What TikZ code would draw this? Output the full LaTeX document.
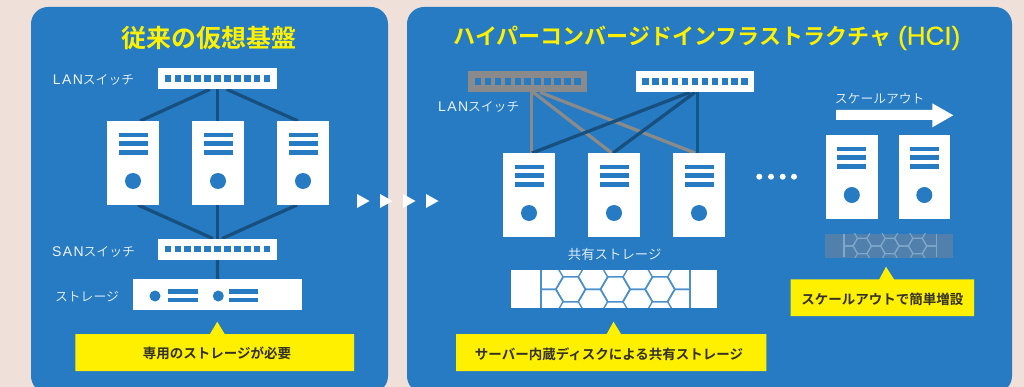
\documentclass[tikz,border=0pt]{standalone}
\usepackage{fontspec}
\setmainfont{Noto Sans CJK JP}[BoldFont={Noto Sans CJK JP Bold}]
\newfontfamily\lightf{Noto Sans CJK JP DemiLight}
\newfontfamily\titf{Noto Sans CJK JP Bold}
\newfontfamily\latn{Liberation Sans}[LetterSpace=10]
\newfontfamily\latt{Liberation Sans}[FakeBold=0.6]
\usetikzlibrary{calc,backgrounds}
\definecolor{bgc}{HTML}{F0E0DA}
\definecolor{panelc}{HTML}{277BC2}
\definecolor{yel}{HTML}{FFF000}
\definecolor{dk}{HTML}{17507F}
\definecolor{dkt}{HTML}{0F5A86}
\definecolor{gr}{HTML}{8A8A8A}
\definecolor{txt}{HTML}{333024}
\definecolor{lbl}{HTML}{EEF4FA}
\definecolor{hexc}{HTML}{4A90CC}
\definecolor{fadebg}{HTML}{5080AB}
\definecolor{fadehex}{HTML}{7FA7C9}
\tikzset{
 x=1pt,y=-1pt,
 panel/.style={fill=panelc,draw=none,rounded corners=17pt},
 switchbox/.style={rectangle,inner sep=0,outer sep=0,minimum width=118.8pt,minimum height=21.3pt,fill=white},
 serverbox/.style={rectangle,inner sep=0,outer sep=0,minimum width=51.4pt,minimum height=84pt,fill=white},
 storebox/.style={rectangle,inner sep=0,outer sep=0,fill=white},
 lan/.style={line width=3.3pt,draw=dk},
 lang/.style={line width=3.3pt,draw=gr},
 lanb/.style={line width=3.3pt,draw=dkt},
 lab/.style={text=lbl,font=\lightf\fontsize{12.8}{15}\selectfont,inner sep=0},
 title/.style={text=yel,font=\titf\fontsize{25}{28}\selectfont,inner sep=0},
 calloutbox/.style={fill=yel,draw=none},
 calltext/.style={text=txt,font=\fontsize{13.5}{15}\selectfont\bfseries,inner sep=0},
}
\newcommand{\netname}[1]{{\latn\fontsize{14}{15}\selectfont #1}}
% #1 name, #2 cx, #3 cy, #4 fill
\newcommand{\swt}[4]{%
 \node[switchbox,fill=#4] (#1) at (#2,#3) {};
 \foreach \i in {0,...,10}{\fill[panelc] ({#2-52.9+9.93*\i},{#3-3.25}) rectangle ++(6.5,6.5);}
}
% #1 name, #2 cx, #3 top
\newcommand{\srv}[3]{%
 \node[serverbox] (#1) at (#2,{#3+42}) {};
 \foreach \j in {11.7,20.3,29}{\fill[panelc] ({#2-14.5},{#3+\j}) rectangle ++(29,4.7);}
 \fill[panelc] (#2,{#3+60}) circle (8);
}
% honeycomb: #1 left, #2 top, #3 scale, #4 hex colour, #5 line width
\newcommand{\honey}[5]{%
 \begin{scope}[shift={(#1,#2)},scale=#3]
  \begin{scope}
   \clip (30.3,0) rectangle (179.6,37.7);
   \foreach \cx/\cy in {60/19.3,104.6/19.3,149.3/19.3,
     37.7/6.8,37.7/31.8,82.3/6.8,82.3/31.8,127/6.8,127/31.8,171.6/6.8,171.6/31.8}{
    \draw[#4,line width=#5] (\cx-14.6,\cy) -- (\cx-7.3,\cy-12.5) -- (\cx+7.3,\cy-12.5) -- (\cx+14.6,\cy) -- (\cx+7.3,\cy+12.5) -- (\cx-7.3,\cy+12.5) -- cycle;
   }
  \end{scope}
  \draw[#4,line width=#5*1.5] (30.3,0) -- (30.3,37.7);
  \draw[#4,line width=#5*1.5] (179.6,0) -- (179.6,37.7);
 \end{scope}
}
\begin{document}
\begin{tikzpicture}
\useasboundingbox (0,0) rectangle (1024,387);
% nodes left
\swt{lsw}{217.5}{78.6}{white}
\srv{a1}{133}{121}
\srv{a2}{218}{121}
\srv{a3}{303}{121}
\swt{ssw}{217.5}{249.2}{white}
\node[storebox,minimum width=168.7pt,minimum height=31pt] (st) at (217.4,294.8) {};
\foreach \c/\b in {155/168,218.3/228.7}{
 \fill[panelc] (\c,296) circle (5.5);
 \fill[panelc] (\b,289) rectangle ++(29.7,4.7);
 \fill[panelc] (\b,297.7) rectangle ++(29.7,4.7);
}
\node[lab] (l1) at (93.5,80) {\netname{LAN}スイッチ};
\node[lab] (l2) at (93.5,252) {\netname{SAN}スイッチ};
\node[lab] (l3) at (87,297) {ストレージ};
\node[title] (t1) at (208.7,38) {従来の仮想基盤};
% nodes right
\swt{gsw}{527.7}{81.6}{gr}
\swt{wsw}{695}{81.6}{white}
\srv{b1}{529}{153}
\srv{b2}{614}{153}
\srv{b3}{699}{153}
\srv{c1}{851.8}{135}
\srv{c2}{924.3}{135}
\node[lab] (l4) at (478.7,107) {\netname{LAN}スイッチ};
\node[lab,font=\lightf\fontsize{13.4}{15}\selectfont] (l5) at (614.7,254) {共有ストレージ};
\node[lab] (l6) at (879.7,99) {スケールアウト};
\node[title,font=\titf\fontsize{22}{26}\selectfont] (t2) at (707,38) {ハイパーコンバージドインフラストラクチャ\hspace{7pt}{\latt\fontsize{26}{28}\selectfont (HCI)}};
% storage
\node[storebox,minimum width=206.3pt,minimum height=37.7pt] (sh) at (613.85,288.85) {};
\honey{510.7}{270}{1}{hexc}{1.4}
\node[storebox,fill=fadebg,minimum width=128pt,minimum height=23.7pt] (sf) at (889,245.85) {};
\honey{825}{234}{0.62}{fadehex}{1.1}
% callouts
\fill[calloutbox] (75.3,334) -- (210,334) -- (217.3,321.7) -- (224.7,334) -- (354,334) -- (354,371) -- (75.3,371) -- cycle;
\node[calltext] (c1t) at (217,353.7) {専用のストレージが必要};
\fill[calloutbox] (456,334) -- (606.7,334) -- (613.5,321.7) -- (621,334) -- (766.3,334) -- (766.3,371) -- (456,371) -- cycle;
\node[calltext] (c2t) at (609,354) {サーバー内蔵ディスクによる共有ストレージ};
\fill[calloutbox] (790.7,279.3) -- (879.3,279.3) -- (886,266.7) -- (894,279.3) -- (974,279.3) -- (974,316) -- (790.7,316) -- cycle;
\node[calltext] (c3t) at (882.3,299) {スケールアウトで簡単増設};
% marks
\foreach \tx in {357,380,403,426}{\fill[white] (\tx,194) -- (\tx+12.5,201) -- (\tx,208) -- cycle;}
\foreach \dx in {759.3,771,782.7,794}{\fill[white] (\dx,176.7) circle (3);}
\fill[white] (836,110) -- (932.3,110) -- (932.3,103.3) -- (953.3,115.3) -- (932.3,127.3) -- (932.3,120) -- (836,120) -- cycle;
% background layer: page, panels, connectors
\begin{scope}[on background layer]
 \fill[bgc] (0,0) rectangle (1024,387);
 \begin{scope}
  \clip (0,0) rectangle (1024,387);
  \fill[panel] (31,7) rectangle (388,393);
  \fill[panel] (407,7) rectangle (1012,393);
 \end{scope}
 \draw[lan] ($(lsw.south)+(-7.5,0)$) -- ($(a1.north)+(7,0)$);
 \draw[lan] ($(lsw.south)+(0.2,0)$) -- ($(a2.north)+(-0.3,0)$);
 \draw[lan] ($(lsw.south)+(9,0)$) -- ($(a3.north)+(-5,0)$);
 \draw[lan] ($(a1.south)+(5,0)$) -- ($(ssw.north)+(-4.5,0)$);
 \draw[lan] ($(a2.south)+(-0.3,0)$) -- ($(ssw.north)+(0.2,0)$);
 \draw[lan] ($(a3.south)+(-6,0)$) -- ($(ssw.north)+(4.5,0)$);
 \draw[lan] (ssw.south) -- (st.north);
 \draw[lang] ($(gsw.south)+(4,0)$) -- ($(b1.north)+(2.7,0)$);
 \draw[lang] ($(gsw.south)+(5.5,0)$) -- ($(b2.north)+(-2.3,0)$);
 \draw[lang] ($(gsw.south)+(12.3,0)$) -- ($(b3.north)+(-4,0)$);
 \draw[lan] ($(wsw.south)+(-5,0)$) -- ($(b1.north)+(3,0)$);
 \draw[lan] ($(wsw.south)+(0,0)$) -- ($(b2.north)+(-1,0)$);
 \draw[lanb] ($(wsw.south)+(2.7,0)$) -- ($(b3.north)+(-1.3,0)$);
\end{scope}
\end{tikzpicture}
\end{document}
